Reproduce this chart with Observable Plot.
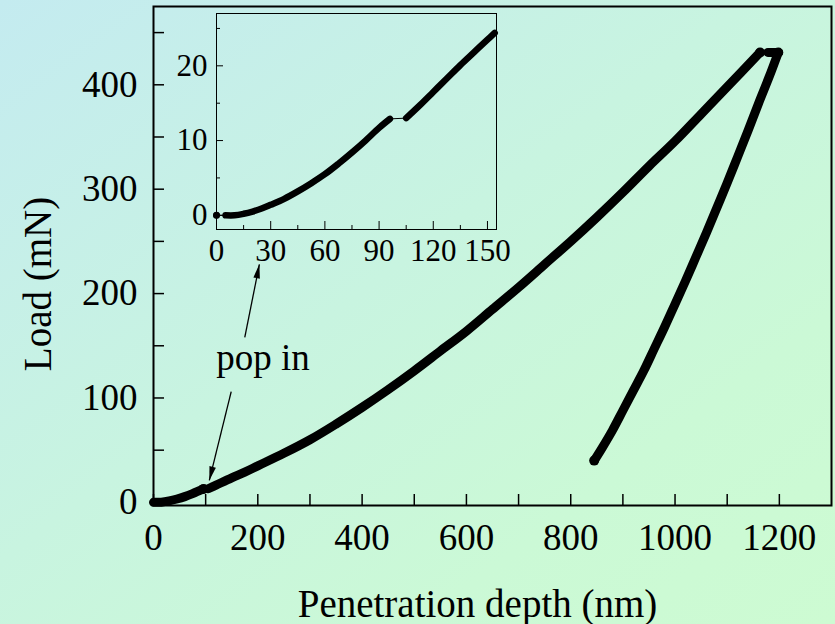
<!DOCTYPE html>
<html><head><meta charset="utf-8">
<script src="https://cdn.jsdelivr.net/npm/d3@7"></script>
<script src="https://cdn.jsdelivr.net/npm/@observablehq/plot@0.6"></script>
<style>
html,body{margin:0;padding:0;}
body{width:835px;height:624px;overflow:hidden;background:linear-gradient(to bottom right,#c4ebf0 0%,#c8f4e0 45%,#cbf9d6 75%,#cdfbd2 100%);}
#wrap{position:relative;width:835px;height:624px;}
#wrap svg{position:absolute;left:0;top:0;}
</style></head>
<body><div id="wrap"></div>
<script>
// ---- Main load–depth curve (nm, mN) ----
const loadingDepth = [0, 15, 30, 45, 60, 75, 96, 105, 120, 150, 175, 200, 250, 300, 350, 400, 450, 500, 550, 600, 650, 700, 750, 800, 850, 900, 950, 1000, 1050, 1100, 1163];
const loadingLoad  = [0, 0.2, 1.4, 3.2, 5.5, 8.4, 12.9, 13, 16.5, 23.5, 29, 35, 47, 60, 75, 91, 108, 126, 145, 164, 185, 206, 228, 250, 273, 297, 322, 346, 372, 398, 431];
const popInDepth = [96, 105];
const holdDepth = [1178, 1198];
const holdLoad  = [431, 431];
const unloadingDepth = [1198, 1180, 1160, 1140, 1120, 1100, 1080, 1060, 1040, 1020, 1000, 980, 960, 940, 920, 900, 880, 860, 845];
const unloadingLoad  = [431, 407, 382, 356, 331, 306, 282, 258, 235, 212, 190, 168, 147, 126, 107, 88, 69, 52, 40];

// ---- Inset (first 155 nm) ----
const insetStartDepth = [0];
const insetStartLoad = [0];
const insetSeg1Depth = [5, 10, 15, 20, 25, 30, 37.5, 45, 52.5, 60, 67.5, 75, 82.5, 90, 96];
const insetSeg1Load  = [0, 0, 0.2, 0.5, 0.9, 1.4, 2.2, 3.2, 4.3, 5.5, 6.9, 8.4, 10.0, 11.7, 12.9];
const insetSeg2Depth = [105, 112.5, 120, 127.5, 135, 142.5, 150, 154];
const insetSeg2Load  = [13.0, 14.7, 16.5, 18.3, 20.1, 21.8, 23.5, 24.4];

// ---- Ticks ----
const xTickLabels = [0, 200, 400, 600, 800, 1000, 1200];
const xMinorTicks = [0, 100, 200, 300, 400, 500, 600, 700, 800, 900, 1000, 1100, 1200];
const yTickLabels = [0, 100, 200, 300, 400];
const yMinorTicks = [0, 50, 100, 150, 200, 250, 300, 350, 400, 450];
const insetXTickLabels = [0, 30, 60, 90, 120, 150];
const insetXMinorTicks = [15, 45, 75, 105, 135];
const insetYTickLabels = [0, 10, 20];
const insetYMinorTicks = [5, 15, 25];

// ---- Text & annotations ----
const xTitle = "Penetration depth (nm)";
const yTitle = "Load (mN)";
const noteText = ["pop in"];
const noteDepth = [210];
const noteLoad = [138];
const arrowStartDepth = [149, 175];
const arrowStartLoad  = [106, 158];
const arrowEndDepth   = [107, 203];
const arrowEndLoad    = [21, 228];

const mainRows = [];
loadingDepth.forEach((d, i) => mainRows.push({depth: d, load: loadingLoad[i], seg: d <= popInDepth[0] ? "loadA" : "loadB"}));
holdDepth.forEach((d, i) => mainRows.push({depth: d, load: holdLoad[i], seg: "hold"}));
unloadingDepth.forEach((d, i) => mainRows.push({depth: d, load: unloadingLoad[i], seg: "unload"}));

const insetRows = [];
insetStartDepth.forEach((d, i) => insetRows.push({depth: d, load: insetStartLoad[i], seg: "start"}));
insetSeg1Depth.forEach((d, i) => insetRows.push({depth: d, load: insetSeg1Load[i], seg: "a"}));
insetSeg2Depth.forEach((d, i) => insetRows.push({depth: d, load: insetSeg2Load[i], seg: "b"}));

const arrows = arrowStartDepth.map((d, i) => ({x1: d, y1: arrowStartLoad[i], x2: arrowEndDepth[i], y2: arrowEndLoad[i]}));
const notes = noteText.map((t, i) => ({t, x: noteDepth[i], y: noteLoad[i]}));

const FONT = "Liberation Serif, Times New Roman, serif";
const blank = () => "";
const plain = d => String(d);

const main = Plot.plot({
  width: 835, height: 624,
  marginLeft: 153, marginRight: 4, marginTop: 6, marginBottom: 119,
  x: {domain: [0, 1300]},
  y: {domain: [-3, 475]},
  style: {background: "transparent", fontFamily: FONT, color: "black", overflow: "visible"},
  marks: [
    Plot.axisX({ticks: xMinorTicks, tickSize: 11, dy: -11, tickFormat: blank, label: null, strokeWidth: 1.5}),
    Plot.axisX({ticks: xTickLabels, tickSize: 0, tickPadding: 18, fontSize: 37, label: null, tickFormat: plain}),
    Plot.axisY({ticks: yMinorTicks, tickSize: 11, dx: 11, tickFormat: blank, label: null, strokeWidth: 1.5}),
    Plot.axisY({ticks: yTickLabels, tickSize: 0, tickPadding: 16, fontSize: 37, label: null, tickFormat: plain}),
    Plot.text([xTitle], {frameAnchor: "bottom", dx: -15, dy: 99, fontSize: 39, lineAnchor: "middle", textAnchor: "middle"}),
    Plot.text([yTitle], {frameAnchor: "left", dx: -115, dy: 28, rotate: -90, fontSize: 39, lineAnchor: "middle", textAnchor: "middle"}),
    Plot.line(mainRows, {x: "depth", y: "load", stroke: "black", strokeWidth: 1}),
    Plot.line(mainRows, {x: "depth", y: "load", z: "seg", stroke: "black", strokeWidth: 9, strokeLinecap: "round", strokeLinejoin: "round", curve: "catmull-rom"}),
    Plot.dot(mainRows, Plot.selectLast({x: "depth", y: "load", z: "seg", r: 5, fill: "black", stroke: null})),
    Plot.link(arrows, {x1: "x1", y1: "y1", x2: "x2", y2: "y2", stroke: "black", strokeWidth: 1.3}),
    Plot.text(notes, {x: "x", y: "y", text: "t", fontSize: 37, lineAnchor: "middle", textAnchor: "middle"}),
    Plot.frame({stroke: "black", strokeWidth: 2})
  ]
});

const inset = Plot.plot({
  width: 835, height: 624,
  marginLeft: 216, marginRight: 339, marginTop: 13, marginBottom: 395,
  x: {domain: [0, 155]},
  y: {domain: [-1.9, 27]},
  style: {background: "transparent", fontFamily: FONT, color: "black", overflow: "visible"},
  marks: [
    Plot.axisX({ticks: insetXTickLabels, tickSize: 8, dy: -8, tickFormat: blank, label: null}),
    Plot.axisX({ticks: insetXMinorTicks, tickSize: 4, dy: -4, tickFormat: blank, label: null}),
    Plot.axisX({ticks: insetXTickLabels, tickSize: 0, tickPadding: 9, fontSize: 31, label: null, tickFormat: plain}),
    Plot.axisY({ticks: insetYTickLabels, tickSize: 7, dx: 7, tickFormat: blank, label: null}),
    Plot.axisY({ticks: insetYMinorTicks, tickSize: 4, dx: 4, tickFormat: blank, label: null}),
    Plot.axisY({ticks: insetYTickLabels, tickSize: 0, tickPadding: 9, fontSize: 31, label: null, tickFormat: plain}),
    Plot.line(insetRows, {x: "depth", y: "load", stroke: "black", strokeWidth: 1}),
    Plot.line(insetRows, {x: "depth", y: "load", z: "seg", stroke: "black", strokeWidth: 6.5, strokeLinecap: "round", strokeLinejoin: "round", curve: "catmull-rom"}),
    Plot.dot(insetRows.filter(r => r.seg === "start"), {x: "depth", y: "load", r: 3.5, fill: "black"}),
    Plot.frame({stroke: "black", strokeWidth: 1})
  ]
});

const wrap = document.getElementById("wrap");
wrap.appendChild(main);
wrap.appendChild(inset);

// filled arrowheads for the annotation links
const ns = "http://www.w3.org/2000/svg";
const defs = document.createElementNS(ns, "defs");
const marker = document.createElementNS(ns, "marker");
marker.setAttribute("id", "popHead");
marker.setAttribute("viewBox", "-15 -5 16 10");
marker.setAttribute("markerWidth", "16");
marker.setAttribute("markerHeight", "10");
marker.setAttribute("refX", "0");
marker.setAttribute("refY", "0");
marker.setAttribute("orient", "auto");
marker.setAttribute("markerUnits", "userSpaceOnUse");
const mp = document.createElementNS(ns, "path");
mp.setAttribute("d", "M0,0L-14,-3.3L-14,3.3Z");
mp.setAttribute("fill", "black");
marker.appendChild(mp);
defs.appendChild(marker);
main.insertBefore(defs, main.firstChild);
main.querySelectorAll('g[aria-label="link"] path').forEach(p => p.setAttribute("marker-end", "url(#popHead)"));
</script>
</body></html>
